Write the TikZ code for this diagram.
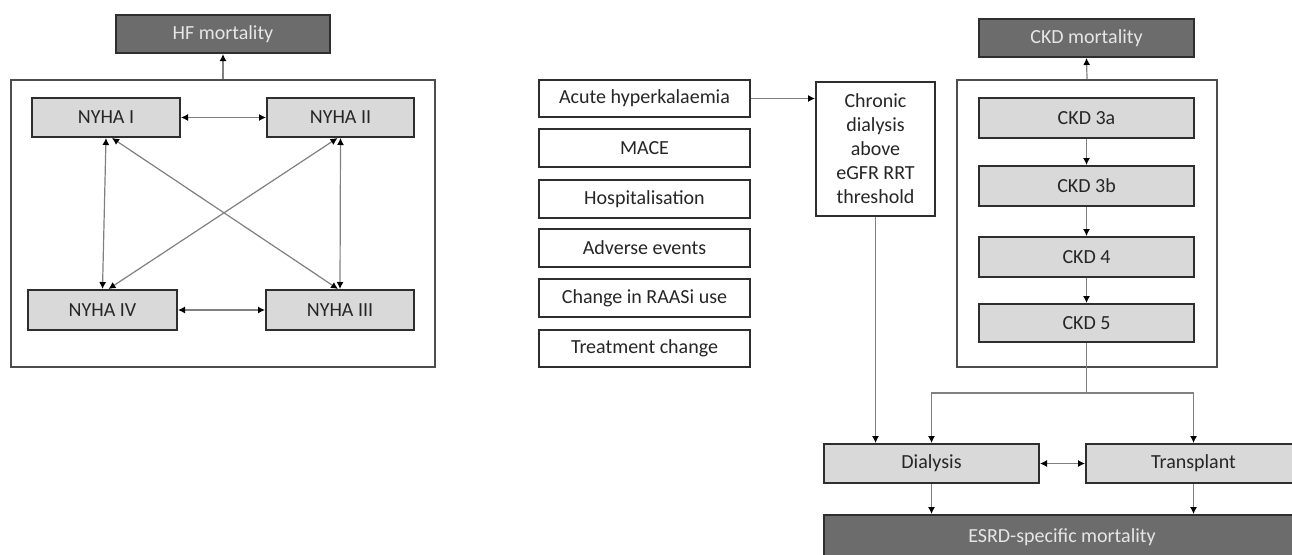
\documentclass[tikz,border=0pt]{standalone}
\usepackage{fontspec}
\setmainfont{Carlito}
\usetikzlibrary{arrows.meta,calc}
\definecolor{darkbox}{HTML}{6C6C6C}
\definecolor{lightbox}{HTML}{D9D9D9}
\definecolor{lighttext}{HTML}{E6E6E6}
\definecolor{edge}{HTML}{2E2E2E}
\definecolor{conn}{HTML}{808080}
\definecolor{txt}{HTML}{262626}
\begin{document}
\begin{tikzpicture}[x=1pt,y=-1pt,
  base/.style={draw=edge,line width=2pt,inner sep=0pt,font=\fontsize{20}{24}\selectfont,text=txt,align=center},
  darkstate/.style={base,fill=darkbox,text=lighttext},
  lightstate/.style={base,fill=lightbox},
  whitestate/.style={base,fill=white},
  frame/.style={draw=edge!85,line width=2.4pt,inner sep=0pt},
  conn/.style={draw=conn,line width=1.2pt,-{Latex[length=7pt,width=7pt,color=black]}},
  biconn/.style={draw=conn,line width=1.2pt,{Latex[length=7pt,width=7pt,color=black]}-{Latex[length=7pt,width=7pt,color=black]}},
  line/.style={draw=conn,line width=1.2pt}]
\useasboundingbox (0,0) rectangle (1292,554);
\clip (0,0) rectangle (1292,554);
\fill[white] (0,0) rectangle (1292,554);
% ---- HF part
\node[frame,minimum width=424pt,minimum height=287pt] (hfbox) at (223,223.5) {};
\node[darkstate,minimum width=214pt,minimum height=38pt] (hfm) at (223,34) {HF mortality};
\node[lightstate,minimum width=148pt,minimum height=39pt] (ny1) at (106,117.5) {NYHA I};
\node[lightstate,minimum width=147pt,minimum height=39pt] (ny2) at (340.5,117.5) {NYHA II};
\node[lightstate,minimum width=149pt,minimum height=40pt] (ny4) at (102.5,310) {NYHA IV};
\node[lightstate,minimum width=148pt,minimum height=40pt] (ny3) at (340,310) {NYHA III};
\draw[conn] (hfbox.north) -- (hfm.south);
\draw[biconn] (ny1.east) -- (ny2.west);
\draw[biconn] (ny4.east) -- (ny3.west);
\draw[biconn] (ny1.south) -- (ny4.north);
\draw[biconn] (ny2.south) -- (ny3.north);
\draw[biconn] ([xshift=6pt]ny1.south) -- ([xshift=-2pt]ny3.north);
\draw[biconn] ([xshift=-3pt]ny2.south) -- ([xshift=6pt]ny4.north);
% ---- middle
\node[whitestate,minimum width=211pt,minimum height=37pt] (acute) at (644.5,98.5) {Acute hyperkalaemia};
\node[whitestate,minimum width=211pt,minimum height=38pt] (mace) at (644.5,148) {MACE};
\node[whitestate,minimum width=211pt,minimum height=38pt] (hosp) at (644.5,199) {Hospitalisation};
\node[whitestate,minimum width=211pt,minimum height=38pt] (adv) at (644.5,248) {Adverse events};
\node[whitestate,minimum width=211pt,minimum height=38pt] (raasi) at (644.5,298) {Change in RAASi use};
\node[whitestate,minimum width=211pt,minimum height=37pt] (treat) at (644.5,348.5) {Treatment change};
\node[whitestate,minimum width=119pt,minimum height=134pt] (chronic) at (875.5,149) {Chronic\\dialysis\\above\\eGFR RRT\\threshold};
\draw[conn] (acute.east) -- (acute.east -| chronic.west);
% ---- CKD part
\node[frame,minimum width=260pt,minimum height=287pt] (ckdbox) at (1087,223.5) {};
\node[darkstate,minimum width=215pt,minimum height=38pt] (ckdm) at (1086.5,38) {CKD mortality};
\node[lightstate,minimum width=215pt,minimum height=40pt] (ckd3a) at (1086.5,118) {CKD 3a};
\node[lightstate,minimum width=215pt,minimum height=40pt] (ckd3b) at (1086.5,186) {CKD 3b};
\node[lightstate,minimum width=215pt,minimum height=40pt] (ckd4) at (1086.5,257) {CKD 4};
\node[lightstate,minimum width=215pt,minimum height=38pt] (ckd5) at (1086.5,323) {CKD 5};
\draw[conn] (ckdbox.north) -- (ckdm.south);
\draw[conn] (ckd3a) -- (ckd3b);
\draw[conn] (ckd3b) -- (ckd4);
\draw[conn] (ckd4) -- (ckd5);
% ---- ESRD part
\node[lightstate,minimum width=215pt,minimum height=39pt] (dial) at (931.5,463.5) {Dialysis};
\node[lightstate,minimum width=215pt,minimum height=39pt] (trans) at (1193.5,463.5) {Transplant};
\node[darkstate,minimum width=476pt,minimum height=45pt] (esrd) at (1062,537.5) {ESRD-specific mortality};
\coordinate (split) at (1086.5,393);
\draw[line] (ckd5.south) -- (split);
\draw[conn] (split) -| (dial.north);
\draw[conn] (split) -| (trans.north);
\draw[conn] (chronic.south) -- (chronic.south |- dial.north);
\draw[biconn] (dial.east) -- (trans.west);
\draw[conn] (dial.south) -- (dial.south |- esrd.north);
\draw[conn] (trans.south) -- (trans.south |- esrd.north);
\end{tikzpicture}
\end{document}
